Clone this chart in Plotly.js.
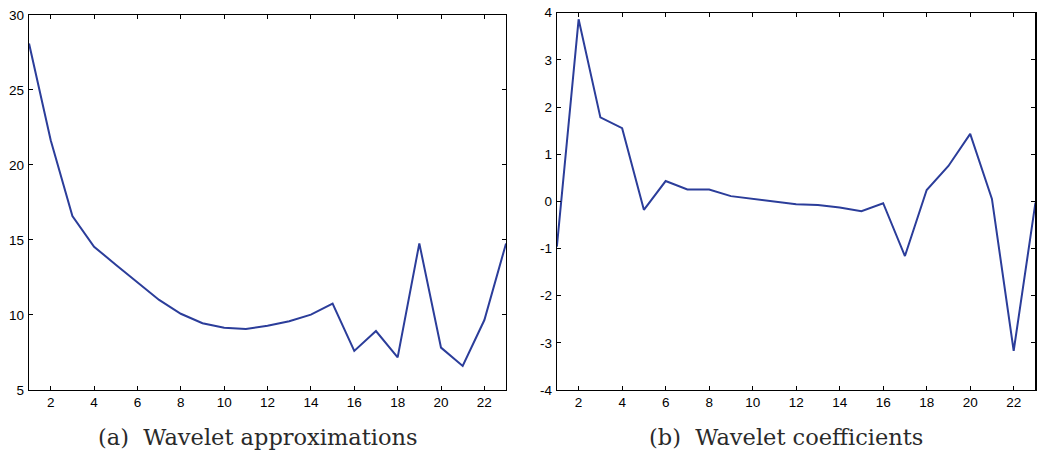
<!DOCTYPE html>
<html>
<head>
<meta charset="utf-8">
<script src="https://cdn.plot.ly/plotly-3.0.1.min.js"></script>
<style>html,body{margin:0;padding:0;background:#fff;}#chart{width:1037px;height:462px;}</style>
</head>
<body>
<div id="chart"></div>
<script>
var xLevels = [1,2,3,4,5,6,7,8,9,10,11,12,13,14,15,16,17,18,19,20,21,22,23];
var approxValues = [28.1,21.65,16.6,14.55,13.35,12.2,11.0,10.08,9.45,9.15,9.06,9.28,9.58,10.02,10.75,7.6,8.93,7.17,14.77,7.82,6.6,9.66,14.77];
var coeffValues = [-0.96,3.86,1.78,1.55,-0.18,0.43,0.25,0.25,0.11,0.05,0.0,-0.06,-0.08,-0.13,-0.21,-0.04,-1.16,0.24,0.75,1.43,0.05,-3.17,-0.03];
var xTicks = [2,4,6,8,10,12,14,16,18,20,22];
var approxTicks = [5,10,15,20,25,30];
var coeffTicks = [-4,-3,-2,-1,0,1,2,3,4];
var coeffTickText = ['-4','-3','-2','-1','0','1','2','3','4'];
var captionA = "(a)  Wavelet approximations";
var captionB = "(b)  Wavelet coefficients";

var lineColor = '#2b3d9a';
var traces = [
  {x: xLevels, y: approxValues, type: 'scatter', mode: 'lines', line: {color: lineColor, width: 2}, xaxis: 'x', yaxis: 'y', cliponaxis: true},
  {x: xLevels, y: coeffValues, type: 'scatter', mode: 'lines', line: {color: lineColor, width: 2}, xaxis: 'x2', yaxis: 'y2', cliponaxis: true}
];
var tickFont = {family: 'Liberation Sans, Arial, sans-serif', size: 13.5, color: '#000'};
function xa(domain, anchor) {
  return {domain: domain, anchor: anchor, range: [1, 23], tickvals: xTicks, ticks: 'inside', ticklen: 4,
    tickcolor: '#000', showline: true, linecolor: '#000', linewidth: 1.2, mirror: 'ticks', showgrid: false,
    zeroline: false, tickfont: tickFont};
}
function ya(domain, anchor, range, tv, tt) {
  var a = {domain: domain, anchor: anchor, range: range, tickvals: tv, ticks: 'inside', ticklen: 4,
    tickcolor: '#000', showline: true, linecolor: '#000', linewidth: 1.2, mirror: 'ticks', showgrid: false,
    zeroline: false, tickfont: tickFont, ticklabelstandoff: 1};
  if (tt) a.ticktext = tt;
  return a;
}
var capFont = {family: 'DejaVu Serif, Liberation Serif, serif', size: 22.5, color: '#2a2a2a'};
var layout = {
  width: 1037, height: 462,
  margin: {l: 0, r: 0, t: 0, b: 0},
  paper_bgcolor: '#fff', plot_bgcolor: '#fff',
  showlegend: false,
  xaxis: xa([0.028, 0.488], 'y'),
  yaxis: ya([0.156, 0.9675], 'x', [5, 30], approxTicks),
  xaxis2: xa([0.537, 0.9985], 'y2'),
  yaxis2: ya([0.156, 0.9725], 'x2', [-4, 4], coeffTicks, coeffTickText),
  annotations: [
    {text: captionA, xref: 'paper', yref: 'paper', x: 0.2485, y: 1 - 437/462, xanchor: 'center', yanchor: 'middle', showarrow: false, font: capFont},
    {text: captionB, xref: 'paper', yref: 'paper', x: 0.7575, y: 1 - 437/462, xanchor: 'center', yanchor: 'middle', showarrow: false, font: capFont}
  ]
};
Plotly.newPlot('chart', traces, layout, {staticPlot: true, displayModeBar: false});
</script>
</body>
</html>
